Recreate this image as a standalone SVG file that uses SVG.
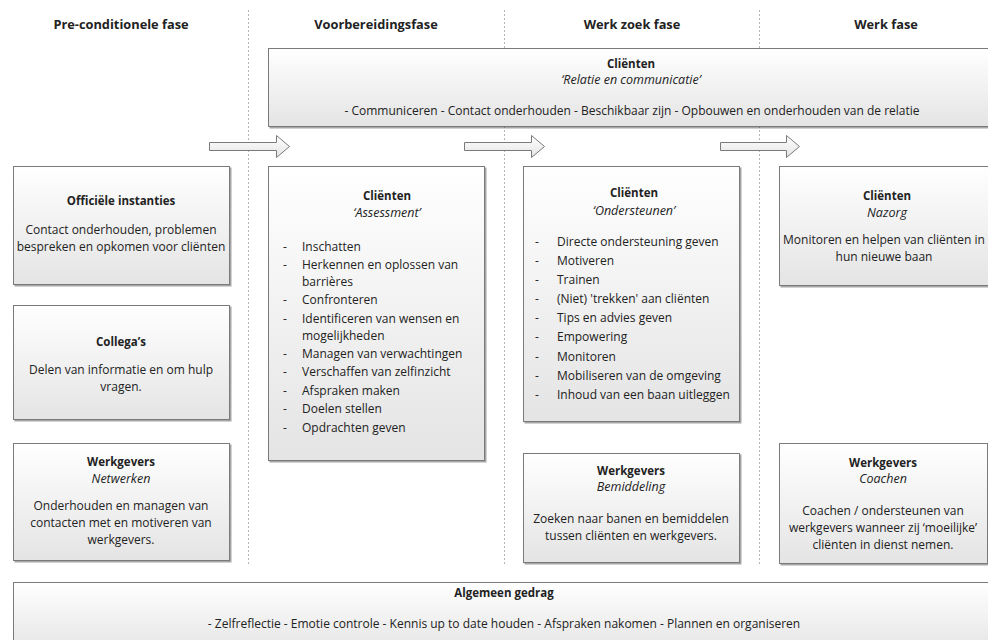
<svg xmlns="http://www.w3.org/2000/svg" width="988" height="640" viewBox="0 0 988 640">
  <defs>
    <linearGradient id="boxFill" x1="0" y1="0" x2="0" y2="1">
      <stop offset="0" stop-color="#ffffff"/>
      <stop offset="1" stop-color="#e4e4e4"/>
    </linearGradient>
    <filter id="shadow" x="-5%" y="-5%" width="110%" height="115%">
      <feDropShadow dx="1.5" dy="1.5" stdDeviation="0.7" flood-color="#000" flood-opacity="0.35"/>
    </filter>
  </defs>
  <style>
    text { font-family: "Open Sans", "Liberation Sans", sans-serif; fill: #222; font-size: 12px; }
    .hdr { font-weight: bold; font-size: 12.8px; text-anchor: middle; }
    .title { font-weight: bold; font-size: 11.5px; text-anchor: middle; }
    .sub { font-style: italic; font-size: 12.5px; text-anchor: middle; }
    .c { text-anchor: middle; }
    .box { fill: url(#boxFill); stroke: #7a7a7a; stroke-width: 1; filter: url(#shadow); }
    .lane { stroke: #b4b4b4; stroke-width: 1; stroke-dasharray: 2 2; fill: none; }
    .arrow { fill: url(#boxFill); stroke: #7a7a7a; stroke-width: 1; }
  </style>

  <rect width="988" height="640" fill="#ffffff"/>

  <!-- phase separators -->
  <g id="lanes">
    <line class="lane" x1="248.5" y1="10" x2="248.5" y2="566"/>
    <line class="lane" x1="504.5" y1="10" x2="504.5" y2="566"/>
    <line class="lane" x1="759.5" y1="10" x2="759.5" y2="566"/>
  </g>

  <!-- phase headers -->
  <g id="headers">
    <text class="hdr" x="121" y="29">Pre-conditionele fase</text>
    <text class="hdr" x="376" y="29">Voorbereidingsfase</text>
    <text class="hdr" x="632" y="29">Werk zoek fase</text>
    <text class="hdr" x="886" y="29">Werk fase</text>
  </g>

  <!-- flow arrows between phases -->
  <g id="connectors">
    <path class="arrow" d="M209.5,142.5 H276.5 V135.5 L289.5,146.5 L276.5,157.5 V150.5 H209.5 Z"/>
    <path class="arrow" d="M464.5,142.5 H531.5 V135.5 L544.5,146.5 L531.5,157.5 V150.5 H464.5 Z"/>
    <path class="arrow" d="M720.5,142.5 H786.5 V135.5 L799.5,146.5 L786.5,157.5 V150.5 H720.5 Z"/>
  </g>

  <g id="clienten-relatie">
    <rect class="box" x="268.5" y="48.5" width="727" height="78"/>
    <text class="title" x="631" y="68">Cliënten</text>
    <text class="sub" x="631" y="84">‘Relatie en communicatie’</text>
    <text class="c" x="632" y="115">- Communiceren - Contact onderhouden - Beschikbaar zijn - Opbouwen en onderhouden van de relatie</text>
  </g>

  <g id="officiele-instanties">
    <rect class="box" x="13.5" y="166.5" width="216" height="118"/>
    <text class="title" x="121" y="205">Officiële instanties</text>
    <text class="c" x="121" y="234">Contact onderhouden, problemen</text>
    <text class="c" x="121" y="251">bespreken en opkomen voor cliënten</text>
  </g>

  <g id="collegas">
    <rect class="box" x="13.5" y="305.5" width="216" height="114"/>
    <text class="title" x="121" y="346">Collega’s</text>
    <text class="c" x="121" y="374">Delen van informatie en om hulp</text>
    <text class="c" x="121" y="391">vragen.</text>
  </g>

  <g id="werkgevers-netwerken">
    <rect class="box" x="13.5" y="443.5" width="216" height="117"/>
    <text class="title" x="121" y="466">Werkgevers</text>
    <text class="sub" x="121" y="483">Netwerken</text>
    <text class="c" x="121" y="510">Onderhouden en managen van</text>
    <text class="c" x="121" y="527">contacten met en motiveren van</text>
    <text class="c" x="121" y="544">werkgevers.</text>
  </g>

  <g id="clienten-assessment">
    <rect class="box" x="268.5" y="166.5" width="216" height="294"/>
    <text class="title" x="387" y="200">Cliënten</text>
    <text class="sub" x="387" y="217">‘Assessment’</text>
    <g>
      <text x="283" y="251">-</text><text x="302" y="251">Inschatten</text>
      <text x="283" y="269">-</text><text x="302" y="269">Herkennen en oplossen van</text>
      <text x="302" y="286">barrières</text>
      <text x="283" y="304">-</text><text x="302" y="304">Confronteren</text>
      <text x="283" y="323">-</text><text x="302" y="323">Identificeren van wensen en</text>
      <text x="302" y="340">mogelijkheden</text>
      <text x="283" y="358">-</text><text x="302" y="358">Managen van verwachtingen</text>
      <text x="283" y="376">-</text><text x="302" y="376">Verschaffen van zelfinzicht</text>
      <text x="283" y="395">-</text><text x="302" y="395">Afspraken maken</text>
      <text x="283" y="413">-</text><text x="302" y="413">Doelen stellen</text>
      <text x="283" y="432">-</text><text x="302" y="432">Opdrachten geven</text>
    </g>
  </g>

  <g id="clienten-ondersteunen">
    <rect class="box" x="523.5" y="166.5" width="216" height="255"/>
    <text class="title" x="634" y="197">Cliënten</text>
    <text class="sub" x="634" y="215">‘Ondersteunen’</text>
    <g>
      <text x="535" y="246">-</text><text x="557" y="246">Directe ondersteuning geven</text>
      <text x="535" y="265">-</text><text x="557" y="265">Motiveren</text>
      <text x="535" y="284">-</text><text x="557" y="284">Trainen</text>
      <text x="535" y="303">-</text><text x="557" y="303">(Niet) 'trekken' aan cliënten</text>
      <text x="535" y="322">-</text><text x="557" y="322">Tips en advies geven</text>
      <text x="535" y="341">-</text><text x="557" y="341">Empowering</text>
      <text x="535" y="361">-</text><text x="557" y="361">Monitoren</text>
      <text x="535" y="380">-</text><text x="557" y="380">Mobiliseren van de omgeving</text>
      <text x="535" y="399">-</text><text x="557" y="399">Inhoud van een baan uitleggen</text>
    </g>
  </g>

  <g id="werkgevers-bemiddeling">
    <rect class="box" x="523.5" y="453.5" width="216" height="109"/>
    <text class="title" x="631" y="475">Werkgevers</text>
    <text class="sub" x="631" y="491">Bemiddeling</text>
    <text class="c" x="631" y="523">Zoeken naar banen en bemiddelen</text>
    <text class="c" x="631" y="540">tussen cliënten en werkgevers.</text>
  </g>

  <g id="clienten-nazorg">
    <rect class="box" x="779.5" y="166.5" width="216" height="119"/>
    <text class="title" x="887" y="200">Cliënten</text>
    <text class="sub" x="887" y="217">Nazorg</text>
    <text class="c" x="884" y="244">Monitoren en helpen van cliënten in</text>
    <text class="c" x="884" y="261">hun nieuwe baan</text>
  </g>

  <g id="werkgevers-coachen">
    <rect class="box" x="779.5" y="443.5" width="208" height="120"/>
    <text class="title" x="883" y="467">Werkgevers</text>
    <text class="sub" x="883" y="483">Coachen</text>
    <text class="c" x="883" y="515">Coachen / ondersteunen van</text>
    <text class="c" x="883" y="532">werkgevers wanneer zij ‘moeilijke’</text>
    <text class="c" x="883" y="549">cliënten in dienst nemen.</text>
  </g>

  <g id="algemeen-gedrag">
    <rect class="box" x="13.5" y="582.5" width="982" height="70"/>
    <text class="title" x="504" y="597">Algemeen gedrag</text>
    <text class="c" x="504" y="628">- Zelfreflectie - Emotie controle - Kennis up to date houden - Afspraken nakomen - Plannen en organiseren</text>
  </g>
</svg>
